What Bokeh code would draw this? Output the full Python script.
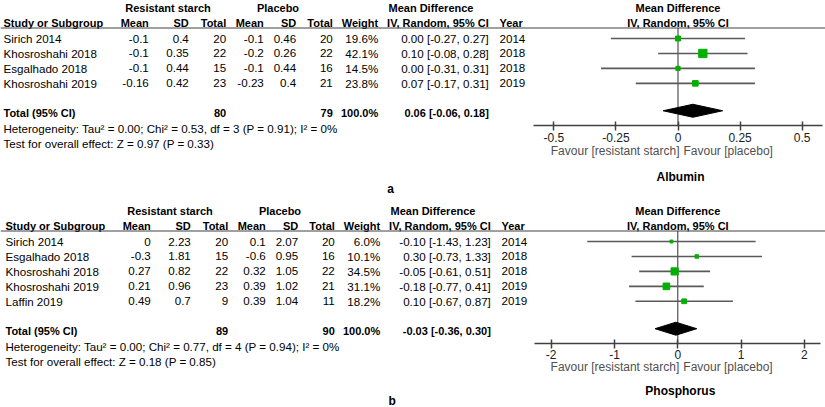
from bokeh.plotting import figure
from bokeh.models import Range1d, LinearAxis, FixedTicker, ColumnDataSource
from bokeh.layouts import column
from bokeh.embed import file_html
from bokeh.resources import INLINE
from bokeh.core.properties import value

# ---------------- data : Albumin (panel a) ----------------
alb_studies = ["Sirich 2014", "Khosroshahi 2018", "Esgalhado 2018", "Khosroshahi 2019"]
alb_rs_mean = [-0.1, -0.1, -0.1, -0.16]
alb_rs_sd = [0.4, 0.35, 0.44, 0.42]
alb_rs_n = [20, 22, 15, 23]
alb_pl_mean = [-0.1, -0.2, -0.1, -0.23]
alb_pl_sd = [0.46, 0.26, 0.44, 0.4]
alb_pl_n = [20, 22, 16, 21]
alb_weight = [19.6, 42.1, 14.5, 23.8]
alb_md = [0.00, 0.10, 0.00, 0.07]
alb_lo = [-0.27, -0.08, -0.31, -0.17]
alb_hi = [0.27, 0.28, 0.31, 0.31]
alb_year = [2014, 2018, 2018, 2019]
alb_total_n = [80, 79]
alb_total_ci = [0.06, -0.06, 0.18]
alb_het = "Heterogeneity: Tau² = 0.00; Chi² = 0.53, df = 3 (P = 0.91); I² = 0%"
alb_test = "Test for overall effect: Z = 0.97 (P = 0.33)"
alb_ticks = [-0.5, -0.25, 0.0, 0.25, 0.5]
alb_tick_labels = ["-0.5", "-0.25", "0", "0.25", "0.5"]

# ---------------- data : Phosphorus (panel b) ----------------
pho_studies = ["Sirich 2014", "Esgalhado 2018", "Khosroshahi 2018", "Khosroshahi 2019", "Laffin 2019"]
pho_rs_mean = [0, -0.3, 0.27, 0.21, 0.49]
pho_rs_sd = [2.23, 1.81, 0.82, 0.96, 0.7]
pho_rs_n = [20, 15, 22, 23, 9]
pho_pl_mean = [0.1, -0.6, 0.32, 0.39, 0.39]
pho_pl_sd = [2.07, 0.95, 1.05, 1.02, 1.04]
pho_pl_n = [20, 16, 22, 21, 11]
pho_weight = [6.0, 10.1, 34.5, 31.1, 18.2]
pho_md = [-0.10, 0.30, -0.05, -0.18, 0.10]
pho_lo = [-1.43, -0.73, -0.61, -0.77, -0.67]
pho_hi = [1.23, 1.33, 0.51, 0.41, 0.87]
pho_year = [2014, 2018, 2018, 2019, 2019]
pho_total_n = [89, 90]
pho_total_ci = [-0.03, -0.36, 0.30]
pho_het = "Heterogeneity: Tau² = 0.00; Chi² = 0.77, df = 4 (P = 0.94); I² = 0%"
pho_test = "Test for overall effect: Z = 0.18 (P = 0.85)"
pho_ticks = [-2.0, -1.0, 0.0, 1.0, 2.0]
pho_tick_labels = ["-2", "-1", "0", "1", "2"]

# ---------------- style / layout ----------------
FONT = "Liberation Sans"
REG = "11.6px"
BOLD = "11px"
X0, X1 = 0.0, 825.0
W = 825
SQ = "#00B000"


def tx(p, x, y, s, align="left", bold=False, size=None, color="black", xr=None, x_offset=0):
    kw = {"x_range_name": xr} if xr else {}
    p.text(x=[x], y=[y], text=[s], text_align=align, text_baseline="middle",
           text_font=value(FONT),
           text_font_size=size or (BOLD if bold else REG),
           text_font_style="bold" if bold else "normal",
           text_color=color, x_offset=x_offset, **kw)


def fmt(v):
    return f"{v:.2f}"


def panel(studies, rs_mean, rs_sd, rs_n, pl_mean, pl_sd, pl_n, weight, md, lo, hi, year,
          total_n, total_ci, het, test, ticks, tick_labels, title, letter,
          height, ytop, dy, dx, zx, ppu, bound, axis_y, favour_y, title_y, letter_xy):
    ybot = ytop + height
    p = figure(width=W, height=height, x_range=Range1d(X0, X1), y_range=Range1d(ybot, ytop),
               output_backend="svg", toolbar_location=None,
               x_axis_location=None, y_axis_location=None, min_border=0,
               outline_line_color=None, background_fill_color="white")
    p.xgrid.grid_line_color = None
    p.ygrid.grid_line_color = None
    p.extra_x_ranges = {"md": Range1d((X0 - zx) / ppu, (X1 - zx) / ppu)}

    h0, h1, rule = dy + 7, dy + 22, dy + 27.5
    row = lambda i: dy + 38 + 14.95 * i
    n = len(studies)

    # group headers
    tx(p, 167.5 + dx, h0, "Resistant starch", "center", True)
    tx(p, 277.5 + dx, h0, "Placebo", "center", True)
    tx(p, 388 + dx, h0, "Mean Difference", "left", True)
    tx(p, 0, h0, "Mean Difference", "center", True, xr="md")
    # column headers
    cols = [("Study or Subgroup", 3, "left"), ("Mean", 148.3, "right"), ("SD", 188.3, "right"),
            ("Total", 225.7, "right"), ("Mean", 263.3, "right"), ("SD", 295.7, "right"),
            ("Total", 332.3, "right"), ("Weight", 377.7, "right"),
            ("IV, Random, 95% CI", 488.3, "right"), ("Year", 499, "left")]
    for s, x, a in cols:
        tx(p, x + dx, h1, s, a, True)
    tx(p, 0, h1, "IV, Random, 95% CI", "center", True, xr="md")
    p.segment(x0=[X0], x1=[X1], y0=[rule], y1=[rule], line_color="#404040", line_width=1)

    # study rows
    for i in range(n):
        y = row(i)
        tx(p, 3 + dx, y, studies[i])
        tx(p, 148.3 + dx, y, str(rs_mean[i]), "right")
        tx(p, 188.3 + dx, y, str(rs_sd[i]), "right")
        tx(p, 225.7 + dx, y, str(rs_n[i]), "right")
        tx(p, 263.3 + dx, y, str(pl_mean[i]), "right")
        tx(p, 295.7 + dx, y, str(pl_sd[i]), "right")
        tx(p, 332.3 + dx, y, str(pl_n[i]), "right")
        tx(p, 377.7 + dx, y, f"{weight[i]:.1f}%", "right")
        tx(p, 488.3 + dx, y, f"{fmt(md[i])} [{fmt(lo[i])}, {fmt(hi[i])}]", "right")
        tx(p, 499 + dx, y, str(year[i]))

    yt = row(n + 1)
    tx(p, 3 + dx, yt, "Total (95% CI)", "left", True)
    tx(p, 225.7 + dx, yt, str(total_n[0]), "right", True)
    tx(p, 332.3 + dx, yt, str(total_n[1]), "right", True)
    tx(p, 377.7 + dx, yt, "100.0%", "right", True)
    tx(p, 488.3 + dx, yt,
       f"{fmt(total_ci[0])} [{fmt(total_ci[1])}, {fmt(total_ci[2])}]", "right", True)
    tx(p, 3 + dx, row(n + 2), het)
    tx(p, 3 + dx, row(n + 3), test)

    # forest plot
    ys = [row(i) for i in range(n)]
    src = ColumnDataSource(dict(md=md, lo=lo, hi=hi, y=ys,
                                size=[2 + 0.15 * w for w in weight]))
    p.segment(x0=[0], x1=[0], y0=[rule], y1=[axis_y], x_range_name="md",
              line_color="#303030", line_width=1)
    p.segment(x0="lo", x1="hi", y0="y", y1="y", source=src, x_range_name="md",
              line_color="#5a5a5a", line_width=1.6)
    p.scatter(x="md", y="y", size="size", marker="square", source=src, x_range_name="md",
              fill_color=SQ, line_color=SQ)
    yd, hd = yt - 2.5, 6.5
    p.patch(x=[total_ci[1], total_ci[0], total_ci[2], total_ci[0]],
            y=[yd, yd - hd, yd, yd + hd], x_range_name="md",
            fill_color="black", line_color="black")

    ax = LinearAxis(x_range_name="md", fixed_location=axis_y, bounds=(-bound, bound),
                    ticker=FixedTicker(ticks=ticks),
                    major_label_overrides={t: l for t, l in zip(ticks, tick_labels)},
                    major_tick_in=4, major_tick_out=5, minor_tick_in=0, minor_tick_out=0,
                    axis_line_color="#404040", axis_line_width=1.5,
                    major_tick_line_color="#404040", major_tick_line_width=1.5,
                    major_label_text_font=FONT, major_label_text_font_size="12px",
                    major_label_text_color="#202020", major_label_standoff=2)
    p.add_layout(ax, "below")

    tx(p, 0, favour_y, "Favour [resistant starch]", "right", False, "12px", "#505050",
       xr="md", x_offset=1.5)
    tx(p, 0, favour_y, "Favour [placebo]", "left", False, "12px", "#505050",
       xr="md", x_offset=5.5)
    tx(p, 0, title_y, title, "center", True, "12px", xr="md", x_offset=2.5)
    tx(p, letter_xy[0], letter_xy[1], letter, "center", True, "12px")
    return p


pa = panel(alb_studies, alb_rs_mean, alb_rs_sd, alb_rs_n, alb_pl_mean, alb_pl_sd, alb_pl_n,
           alb_weight, alb_md, alb_lo, alb_hi, alb_year, alb_total_n, alb_total_ci,
           alb_het, alb_test, alb_ticks, alb_tick_labels, "Albumin", "a",
           height=197, ytop=0.0, dy=0, dx=0, zx=677.5, ppu=248.3, bound=0.582,
           axis_y=125, favour_y=150, title_y=176.7, letter_xy=(390, 188.3))
pb = panel(pho_studies, pho_rs_mean, pho_rs_sd, pho_rs_n, pho_pl_mean, pho_pl_sd, pho_pl_n,
           pho_weight, pho_md, pho_lo, pho_hi, pho_year, pho_total_n, pho_total_ci,
           pho_het, pho_test, pho_ticks, pho_tick_labels, "Phosphorus", "b",
           height=210, ytop=197.0, dy=203, dx=2, zx=677.3, ppu=63.3, bound=2.26,
           axis_y=342.7, favour_y=366.7, title_y=390, letter_xy=(391.7, 400))

layout = column(pa, pb, spacing=0)
open("out.html", "w").write(file_html(layout, INLINE))
